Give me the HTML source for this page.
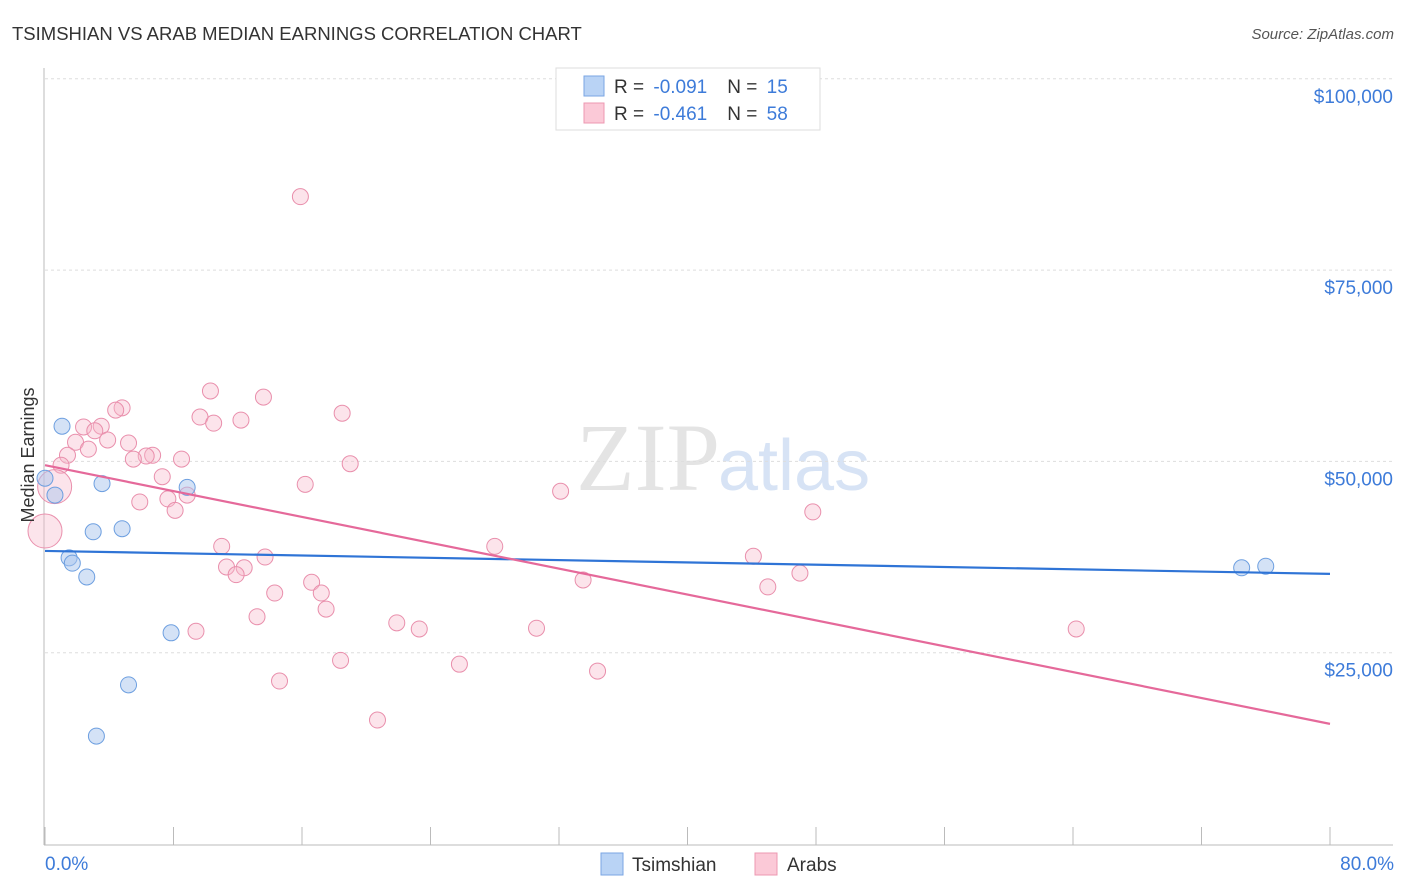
<!DOCTYPE html>
<html><head><meta charset="utf-8"><style>
body{margin:0;background:#fff;font-family:"Liberation Sans",sans-serif;}
svg{display:block}
</style></head><body>
<svg width="1406" height="892" viewBox="0 0 1406 892">
<text x="12" y="40" font-size="18.5" fill="#333">TSIMSHIAN VS ARAB MEDIAN EARNINGS CORRELATION CHART</text>
<text x="1394" y="39" font-size="15" fill="#555" font-style="italic" text-anchor="end">Source: ZipAtlas.com</text>
<text x="720" y="490" font-size="96" fill="#e4e4e4" text-anchor="end" font-family="Liberation Serif,serif">ZIP</text>
<text x="718" y="490" font-size="72" fill="#d7e3f5">atlas</text>
<g id="grid"></g>
<g id="axes"></g>
<g id="marks"></g>
<text transform="translate(34,455) rotate(-90)" font-size="18" fill="#333" text-anchor="middle">Median Earnings</text>
<text x="45" y="870" font-size="19" fill="#3d7bd9">0.0%</text>
<text x="1394" y="870" font-size="19" fill="#3d7bd9" text-anchor="end">80.0%</text>
<g>
<rect x="556" y="68" width="264" height="62" fill="#fff" stroke="#ddd"/>
<rect x="584" y="76" width="20" height="20" fill="#b9d3f5" stroke="#7aa6e3"/>
<rect x="584" y="103" width="20" height="20" fill="#fbc9d7" stroke="#ec98b2"/>
<text x="614" y="93" font-size="19" fill="#333">R = <tspan dx="4" fill="#3d7bd9">-0.091</tspan><tspan dx="20">N = </tspan><tspan dx="4" fill="#3d7bd9">15</tspan></text>
<text x="614" y="120" font-size="19" fill="#333">R = <tspan dx="4" fill="#3d7bd9">-0.461</tspan><tspan dx="20">N = </tspan><tspan dx="4" fill="#3d7bd9">58</tspan></text>
</g>
<g>
<rect x="601" y="853" width="22" height="22" fill="#b9d3f5" stroke="#7aa6e3"/>
<text x="632" y="871" font-size="19" fill="#333">Tsimshian</text>
<rect x="755" y="853" width="22" height="22" fill="#fbc9d7" stroke="#ec98b2"/>
<text x="787" y="871" font-size="19" fill="#333">Arabs</text>
</g>
</svg>
<script>
const yTicks=[25000,50000,75000,100000];
const yTickLabels=["$25,000","$50,000","$75,000","$100,000"];
const xTicks=[0,8,16,24,32,40,48,56,64,72,80];
const tsX=[0,1.06,0.62,1.5,1.7,2.6,3.0,3.55,4.8,5.2,3.2,7.85,8.85,74.5,76.0];
const tsY=[47800,54600,45600,37400,36700,34900,40800,47100,41200,20800,14100,27600,46600,36100,36300];
const arX=[15.9,10.3,13.6,4.8,4.4,18.5,9.65,12.2,10.5,2.4,3.5,3.1,3.9,1.9,5.2,2.7,1.4,6.7,6.3,5.5,8.5,1.0,19.0,0.6,7.3,16.2,8.85,7.65,5.9,32.1,8.1,47.8,0,11,28,44.1,13.7,11.3,12.4,11.9,47,33.5,16.6,45,17.2,14.3,17.5,13.2,21.9,23.3,30.6,9.4,64.2,18.4,25.8,34.4,14.6,20.7];
const arY=[84600,59200,58400,57000,56700,56300,55800,55400,55000,54500,54600,54000,52800,52500,52400,51600,50800,50800,50700,50300,50300,49500,49700,46700,48000,47000,45600,45100,44700,46100,43600,43400,40900,38900,38900,37600,37500,36200,36100,35200,35400,34500,34200,33600,32800,32800,30700,29700,28900,28100,28200,27800,28100,24000,23500,22600,21300,16200];
const arBig=[23,32];
const tsTrend=[38300,35300];
const arTrend=[49500,15700];
const NS="http://www.w3.org/2000/svg";
const X=v=>45+v*1285/80, Y=v=>844-v*191.3/25000;
function mk(p,t,a){const e=document.createElementNS(NS,t);for(const k in a)e.setAttribute(k,a[k]);p.appendChild(e);return e;}
const grid=document.getElementById('grid'),axes=document.getElementById('axes'),marks=document.getElementById('marks');
yTicks.forEach((v,i)=>{
 const l=mk(grid,'line',{x1:45,x2:1393,y1:Y(v),y2:Y(v),stroke:'#ddd','stroke-dasharray':'3,3'});
 
 
 const t=mk(grid,'text',{x:1393,y:Y(v)+24,'font-size':19,fill:'#3d7bd9','text-anchor':'end'});
 t.textContent=yTickLabels[i];
 
 
});
const ax=mk(axes,'line',{x1:44,x2:44,y1:68,y2:845,stroke:'#bbb'});


const bx=mk(axes,'line',{x1:44,x2:1393,y1:845,y2:845,stroke:'#bbb'});


xTicks.forEach(v=>{const t=mk(axes,'line',{x1:X(v),x2:X(v),y1:827,y2:845,stroke:'#bbb'});
 
 });
arX.forEach((v,i)=>{const c=mk(marks,'circle',{cx:X(v),cy:Y(arY[i]),r:arBig.includes(i)?17:8,fill:'#f7b8cb','fill-opacity':0.38,stroke:'#e98fac','stroke-width':1});
 
 });
tsX.forEach((v,i)=>{const c=mk(marks,'circle',{cx:X(v),cy:Y(tsY[i]),r:8,fill:'#a9c6ee','fill-opacity':0.5,stroke:'#6d9fe0','stroke-width':1});
 
 });
const l1=mk(marks,'line',{x1:X(0),x2:X(80),y1:Y(tsTrend[0]),y2:Y(tsTrend[1]),stroke:'#2f74d6','stroke-width':2.2});


const l2=mk(marks,'line',{x1:X(0),x2:X(80),y1:Y(arTrend[0]),y2:Y(arTrend[1]),stroke:'#e5699a','stroke-width':2.2});


</script>
</body></html>
